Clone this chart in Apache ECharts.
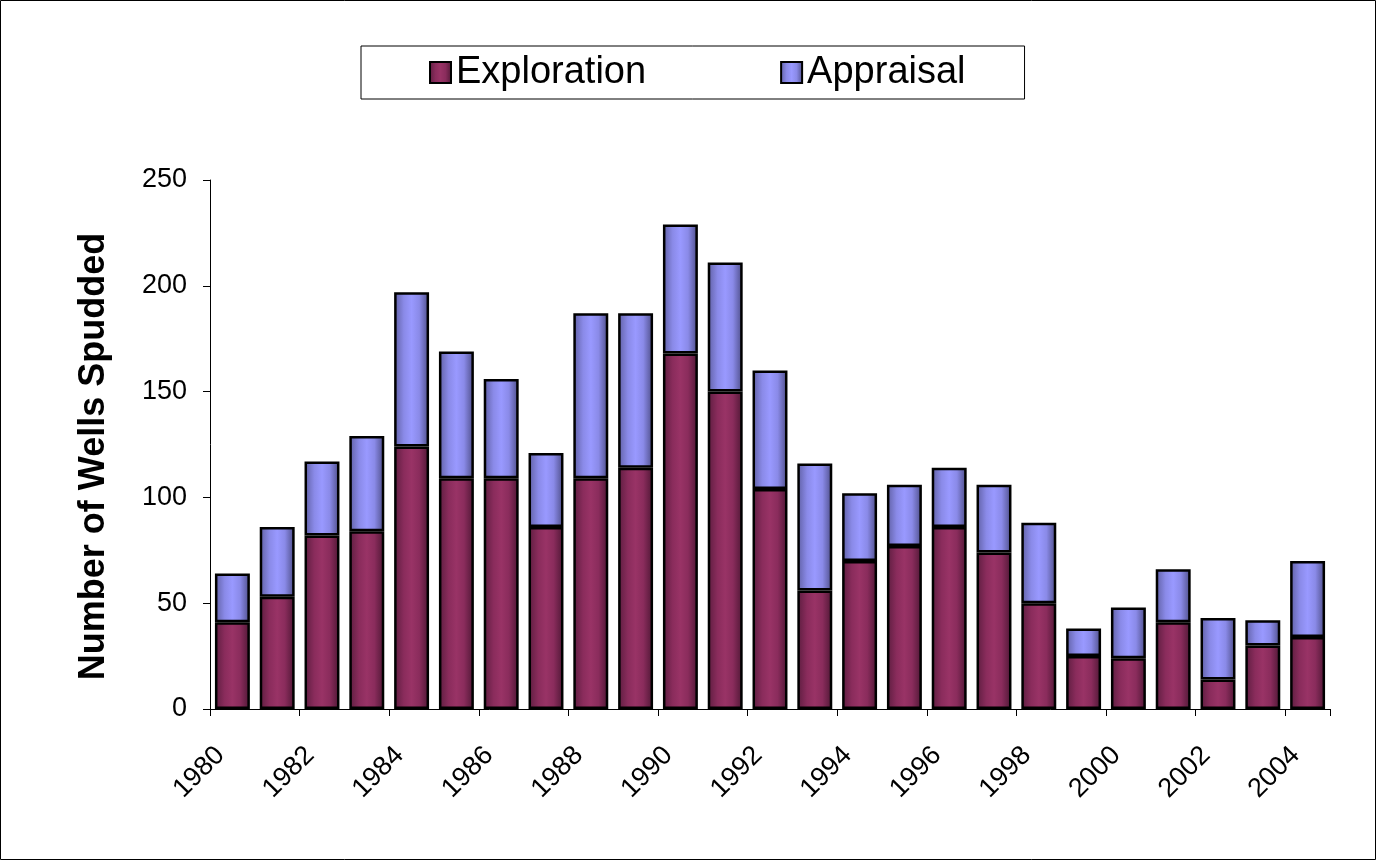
<!DOCTYPE html>
<html>
<head>
<meta charset="utf-8">
<script src="https://cdn.jsdelivr.net/npm/echarts@6/dist/echarts.min.js"></script>
<style>
  html, body { margin: 0; padding: 0; background: #fff; }
  #chart { width: 1376px; height: 860px; }
</style>
</head>
<body>
<div id="chart"></div>
<script>
// data
var years = ["1980", "1981", "1982", "1983", "1984", "1985", "1986", "1987", "1988", "1989",
  "1990", "1991", "1992", "1993", "1994", "1995", "1996", "1997", "1998", "1999",
  "2000", "2001", "2002", "2003", "2004"];
var exploration = [41, 53, 82, 84, 124, 109, 109, 86, 109, 114, 168, 150, 104, 56, 70, 77, 86, 74, 50, 25, 24, 41, 14, 30, 34];
var appraisal = [23, 33, 35, 45, 73, 60, 47, 35, 78, 73, 61, 61, 56, 60, 32, 29, 28, 32, 38, 13, 24, 25, 29, 12, 36];
var seriesNames = ["Exploration", "Appraisal"];

var font = "Arial, 'Liberation Sans', sans-serif";

// horizontal shading like the old spreadsheet bars
function shade(edgeL, mid, hi, edgeR) {
  return new echarts.graphic.LinearGradient(0, 0, 1, 0, [
    { offset: 0, color: edgeL },
    { offset: 0.28, color: mid },
    { offset: 0.5, color: hi },
    { offset: 0.72, color: mid },
    { offset: 1, color: edgeR },
  ]);
}

var chart = echarts.init(document.getElementById("chart"));
chart.setOption({
  animation: false,
  backgroundColor: "#fff",
  graphic: [
    {
      type: "rect",
      shape: { x: 0.5, y: 0.5, width: 1375, height: 859 },
      style: { fill: "none", stroke: "#000", lineWidth: 1 },
    },
  ],
  grid: { left: 210, right: 46, top: 180, bottom: 151 },
  legend: {
    left: 361,
    top: 46,
    data: seriesNames,
    icon: "rect",
    itemWidth: 21,
    itemHeight: 21,
    itemGap: 134,
    padding: [7, 59, 7, 68],
    borderColor: "#000",
    borderWidth: 1,
    textStyle: { fontFamily: font, fontSize: 38, color: "#000", lineHeight: 39 },
  },
  xAxis: {
    type: "category",
    data: years,
    axisLine: { lineStyle: { color: "#000", width: 1 } },
    axisTick: { show: true, length: 7, lineStyle: { color: "#000" } },
    axisLabel: {
      interval: 1,
      rotate: 45,
      margin: 30,
      padding: [0, 17, 0, 0],
      fontFamily: font,
      fontSize: 27,
      color: "#000",
    },
  },
  yAxis: {
    type: "value",
    min: 0,
    max: 250,
    interval: 50,
    name: "Number of Wells Spudded",
    nameLocation: "middle",
    nameGap: 98,
    nameTextStyle: {
      fontFamily: font,
      fontSize: 36,
      fontWeight: "bold",
      color: "#000",
      padding: [0, 24, 0, 0],
    },
    splitLine: { show: false },
    axisLine: { show: true, lineStyle: { color: "#000", width: 1 } },
    axisTick: { show: true, length: 7, lineStyle: { color: "#000" } },
    axisLabel: { margin: 23, fontFamily: font, fontSize: 27, color: "#000" },
  },
  series: [
    {
      name: seriesNames[0],
      type: "bar",
      stack: "wells",
      barCategoryGap: "22%",
      data: exploration,
      itemStyle: {
        color: shade("#5c1d3f", "#8a2c5c", "#993366", "#4d1734"),
        borderColor: "#000",
        borderWidth: 2.5,
      },
    },
    {
      name: seriesNames[1],
      type: "bar",
      stack: "wells",
      data: appraisal,
      itemStyle: {
        color: shade("#5f5fa3", "#8a8ae8", "#9999ff", "#4c4c85"),
        borderColor: "#000",
        borderWidth: 2.5,
      },
    },
  ],
});
</script>
</body>
</html>
